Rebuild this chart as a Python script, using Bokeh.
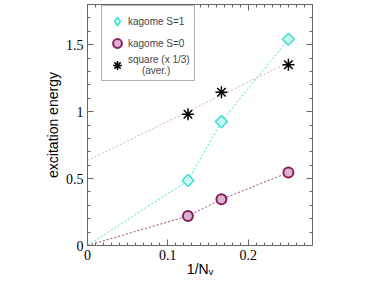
from bokeh.plotting import figure
from bokeh.models import FixedTicker, LinearAxis, Legend, LegendItem, Range1d
from bokeh.embed import file_html
from bokeh.resources import INLINE

# data
inv_nv = [0.125, 1 / 6, 0.25]
kagome_s1 = [0.485, 0.925, 1.54]
kagome_s0 = [0.22, 0.345, 0.545]
square_avg = [0.98, 1.145, 1.35]
fit_x = [0.0, 0.258]
fit_y = [0.635, 1.39]
x_major = [0, 0.1, 0.2]
x_labels = ["0", "0.1", "0.2"]
y_major = [0, 0.5, 1, 1.5]
y_labels = ["0", "0.5", "1", "1.5"]
x_minor = [i / 100 for i in range(0, 29)]
y_minor = [i / 10 for i in range(0, 19)]

CYAN = "#40e0d0"
CYAN_FILL = "#c8f8f2"
PURP = "#8a1f5e"
PURP_FILL = "#d9b3cf"
PURP_LINE = "#a0457f"
PINK = "#e0a8a8"
AX = "#666666"

p = figure(width=374, height=289, x_range=Range1d(0, 0.28), y_range=Range1d(0, 1.8),
           output_backend="svg", toolbar_location=None,
           min_border_left=87, min_border_right=62, min_border_top=4, min_border_bottom=44,
           x_axis_location=None, y_axis_location=None)
p.outline_line_color = None
p.grid.visible = False
p.background_fill_color = "white"
p.border_fill_color = "white"


def style_axis(ax, ticks, minor, labels, show_labels):
    ax.ticker = FixedTicker(ticks=ticks, minor_ticks=minor)
    ax.axis_line_color = AX
    ax.major_tick_line_color = AX
    ax.minor_tick_line_color = AX
    ax.major_tick_in = 6
    ax.major_tick_out = 0
    ax.minor_tick_in = 3
    ax.minor_tick_out = 0
    if show_labels:
        ax.major_label_overrides = {t: l for t, l in zip(ticks, labels)}
        ax.major_label_text_font = "Liberation Serif"
        ax.major_label_text_font_size = "14px"
        ax.major_label_text_color = "black"
        ax.major_label_standoff = 4
        ax.axis_label_text_font = "Liberation Sans"
        ax.axis_label_text_font_size = "14px"
        ax.axis_label_text_font_style = "normal"
        ax.axis_label_text_color = "black"
        ax.axis_label_standoff = 2
    else:
        ax.major_label_text_font_size = "0px"
        ax.major_label_standoff = 0


xb = LinearAxis(axis_label="1/N\u1d65")
style_axis(xb, x_major, x_minor, x_labels, True)
xb.axis_label_standoff = -2
yl = LinearAxis(axis_label="excitation energy")
style_axis(yl, y_major, y_minor, y_labels, True)
xt = LinearAxis()
style_axis(xt, x_major, x_minor, x_labels, False)
yr = LinearAxis()
style_axis(yr, y_major, y_minor, y_labels, False)
p.add_layout(xb, "below")
p.add_layout(yl, "left")
p.add_layout(xt, "above")
p.add_layout(yr, "right")

# lines
p.line(fit_x, fit_y, line_color=PINK, line_width=1, line_dash="2 2")
p.line([0] + inv_nv, [0] + kagome_s1, line_color=CYAN, line_width=1, line_dash="2 2")
p.line([0] + inv_nv, [0] + kagome_s0, line_color=PURP_LINE, line_width=1, line_dash="2 2")

# diamond-shaped renderer for the legend (hidden beneath the rotated squares)
l1 = p.scatter(inv_nv, kagome_s1, marker="diamond", size=6,
               fill_color=CYAN_FILL, line_color=CYAN, line_width=1.5)
p.scatter(inv_nv, kagome_s1, marker="square", angle=0.785398, size=8.5,
          fill_color=CYAN_FILL, line_color=CYAN, line_width=1.5)
l0 = p.scatter(inv_nv, kagome_s0, marker="circle", size=10,
               fill_color=PURP_FILL, line_color=PURP, line_width=2)
ls = p.scatter(inv_nv, square_avg, marker="asterisk", size=12,
               line_color="black", line_width=1.5)

legend = Legend(items=[
    LegendItem(label="kagome S=1", renderers=[l1]),
    LegendItem(label="kagome S=0", renderers=[l0]),
    LegendItem(label="square (x 1/3)\n     (aver.)", renderers=[ls]),
])
legend.label_text_font = "Liberation Sans"
legend.label_text_font_size = "10px"
legend.label_text_line_height = 1.0
legend.border_line_color = AX
legend.border_line_width = 1
legend.margin = 0
legend.padding = 4
legend.spacing = 0
legend.glyph_width = 22
legend.glyph_height = 22
legend.label_standoff = 0
legend.label_height = 12
p.add_layout(legend)
legend.location = (14, 164)

open("out.html", "w").write(file_html(p, INLINE))
